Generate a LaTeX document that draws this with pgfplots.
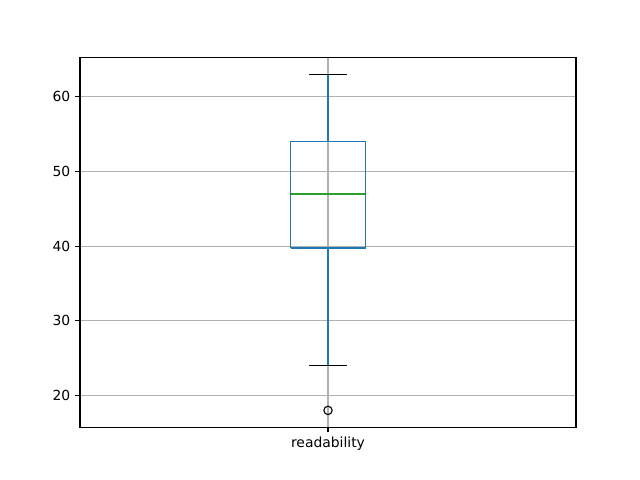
\documentclass[border=0pt]{standalone}
\usepackage{fontspec}
\setmainfont{DejaVu Sans}
\usepackage{pgfplots}
\pgfplotsset{compat=1.18}
\definecolor{mplblue}{HTML}{1F77B4}
\definecolor{mplgreen}{HTML}{2CA02C}
\definecolor{mplgrid}{HTML}{B0B0B0}
\begin{document}
\begin{tikzpicture}
\begin{axis}[
  scale only axis,
  width=357.12pt, height=266.112pt,
  xmin=0.5, xmax=1.5, ymin=15.75, ymax=65.25,
  xtick={1}, xticklabels={readability},
  ytick={20,30,40,50,60},
  grid=major,
  major grid style={color=mplgrid, line width=0.8pt},
  axis line style={line width=0.8pt},
  tick style={black, line width=0.8pt},
  tick align=outside, tickpos=left,
  major tick length=3.5pt,
  tick label style={font=\fontsize{10}{12}\selectfont},
  /pgf/number format/assume math mode=true,
]
% box (Q1=39.75, Q3=54)
\addplot[mplblue, line width=1pt, mark=none] coordinates {(0.925,39.75) (1.075,39.75) (1.075,54) (0.925,54) (0.925,39.75)};
% whiskers
\addplot[mplblue, line width=1pt, mark=none] coordinates {(1,39.75) (1,24)};
\addplot[mplblue, line width=1pt, mark=none] coordinates {(1,54) (1,63)};
% caps
\addplot[black, line width=1pt, mark=none] coordinates {(0.9625,24) (1.0375,24)};
\addplot[black, line width=1pt, mark=none] coordinates {(0.9625,63) (1.0375,63)};
% median
\addplot[mplgreen, line width=1pt, mark=none] coordinates {(0.925,47) (1.075,47)};
% outlier
\addplot[only marks, mark=o, mark size=3pt, mark options={draw=black, line width=0.8pt}] coordinates {(1,18)};
\end{axis}
\path (current axis.south west) ++(-57.6pt,-38.016pt) rectangle ++(460.8pt,345.6pt);
\end{tikzpicture}
\end{document}
